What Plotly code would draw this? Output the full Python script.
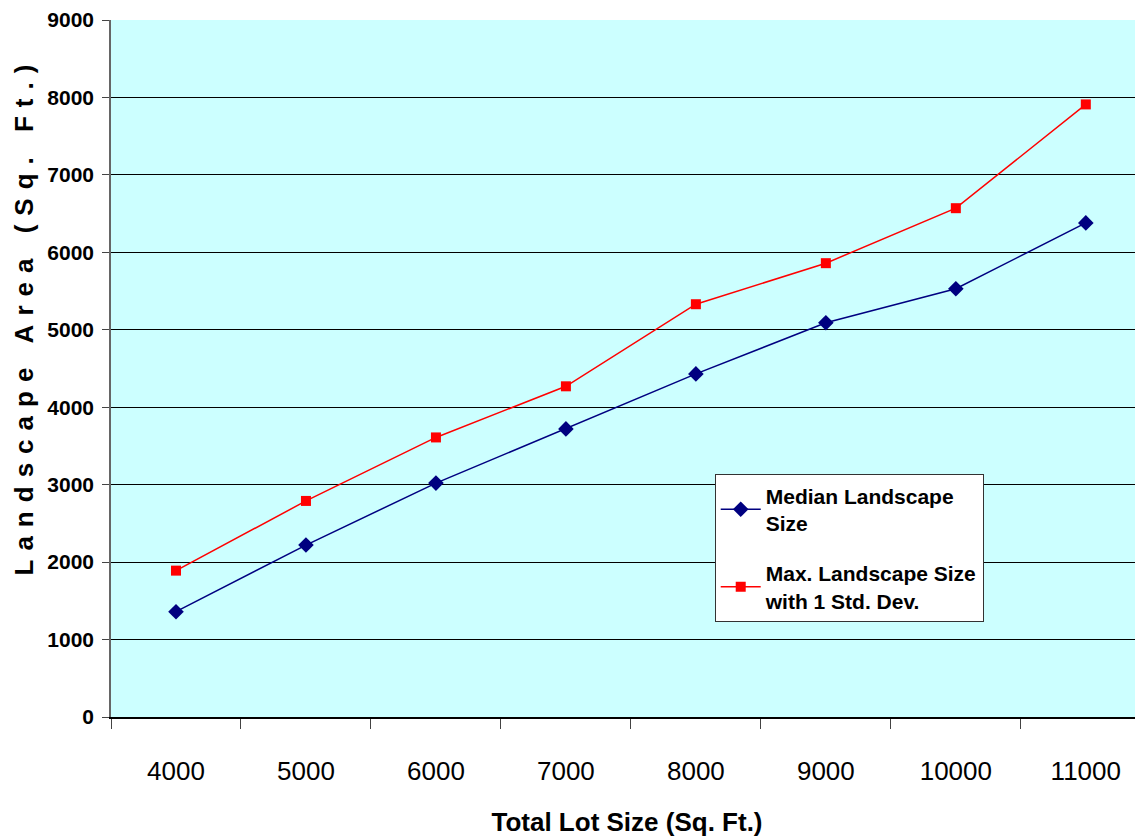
import plotly.graph_objects as go

lot_sizes = ["4000", "5000", "6000", "7000", "8000", "9000", "10000", "11000"]
median_landscape = [1360, 2220, 3020, 3720, 4430, 5090, 5530, 6380]
max_landscape = [1890, 2790, 3610, 4270, 5330, 5860, 6570, 7910]

FONT = "Liberation Sans, Arial, sans-serif"

fig = go.Figure()
fig.add_trace(go.Scatter(
    x=lot_sizes, y=median_landscape, mode="lines+markers",
    name="Median Landscape<br>Size", legendgroup="median",
    line=dict(color="#000080", width=1.5),
    marker=dict(symbol="diamond", size=12, color="#000080"),
))
fig.add_trace(go.Scatter(
    x=lot_sizes, y=max_landscape, mode="lines+markers",
    name="Max. Landscape Size<br>with 1 Std. Dev.", legendgroup="max",
    line=dict(color="#FF0000", width=1.5),
    marker=dict(symbol="square", size=10, color="#FF0000"),
))

fig.update_layout(
    width=1135, height=830,
    margin=dict(l=103, r=0, t=10, b=121),
    paper_bgcolor="white", plot_bgcolor="#CCFFFF",
    font=dict(family=FONT, color="black"),
    showlegend=True,
    legend=dict(
        x=0.585, y=0.348, xanchor="left", yanchor="top",
        bgcolor="white", bordercolor="#333333", borderwidth=1,
        font=dict(size=21, family=FONT, weight="bold"),
        tracegroupgap=20, itemwidth=40,
    ),
    xaxis=dict(
        type="category", range=[-0.5, 7.44],
        tickson="boundaries", ticks="outside", ticklen=10, tickcolor="#444444",
        showgrid=False, showline=True, linecolor="black", linewidth=1.5,
        tickfont=dict(size=26, family=FONT), ticklabelstandoff=30,
        title=dict(text="Total Lot Size (Sq. Ft.)", font=dict(size=26, family=FONT, weight="bold"), standoff=28),
    ),
    yaxis=dict(
        range=[0, 9000], dtick=1000, tickformat="d",
        ticks="outside", ticklen=7, tickcolor="#444444",
        showgrid=True, gridcolor="black", gridwidth=1,
        showline=True, linecolor="#666666", linewidth=1.5,
        zeroline=False, ticklabeloverflow="allow", ticklabelstandoff=4,
        tickfont=dict(size=21, family=FONT, weight="bold"),
    ),
    annotations=[dict(
        text="Landscape Area (Sq. Ft.)", textangle=-90,
        xref="paper", yref="paper", x=-0.0843, y=0.576,
        xanchor="center", yanchor="middle", showarrow=False,
        width=540, align="center",
        font=dict(size=26, family=FONT, weight="bold"),
    )],
)

post = "document.querySelectorAll('.annotation-text').forEach(function(e){e.style.letterSpacing='9px';});"
fig.write_html("out.html", post_script=post)
